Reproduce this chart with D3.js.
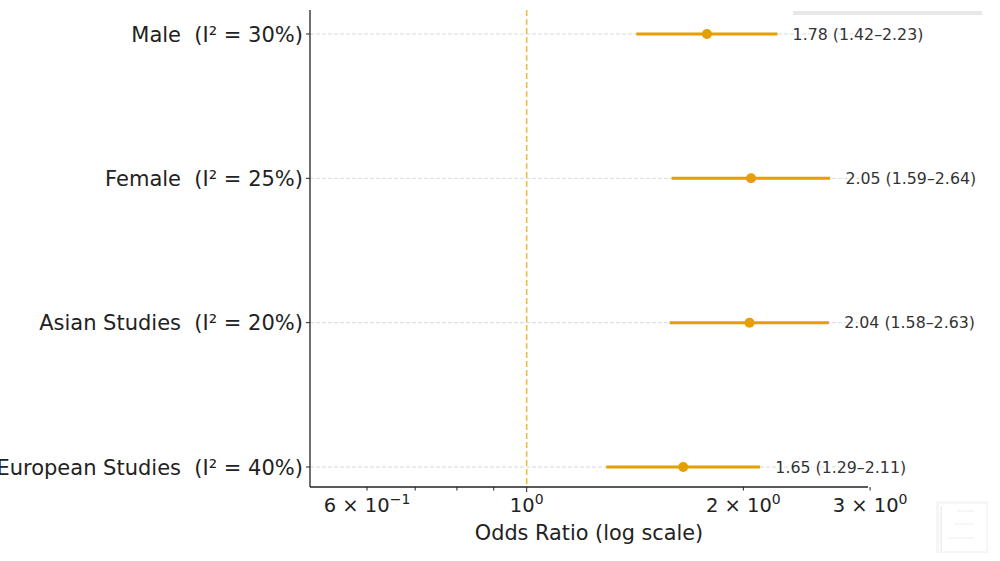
<!DOCTYPE html>
<html><head><meta charset="utf-8">
<script src="https://cdn.jsdelivr.net/npm/d3@7"></script>
<style>
html,body{margin:0;padding:0;background:#fff;}
svg{display:block;font-family:"DejaVu Sans",sans-serif;}
</style></head>
<body>
<svg id="chart" width="1000" height="561"></svg>
<script>
const categories = ["Male", "Female", "Asian Studies", "European Studies"];
const heterogeneity = [30, 25, 20, 40];
const oddsRatio = [1.78, 2.05, 2.04, 1.65];
const ciLower = [1.42, 1.59, 1.58, 1.29];
const ciUpper = [2.23, 2.64, 2.63, 2.11];
const labeledTicks = [0.6, 1, 2, 3];
const tickLabels = [["6 × 10", "−1"], ["10", "0"], ["2 × 10", "0"], ["3 × 10", "0"]];
const minorTicks = [0.7, 0.8, 0.9];

(function () {
const svg = d3.select("#chart");
const orange = "#E69F00";
const pLeft = 310, pRight = 868, pTop = 10, pBottom = 487;

const x = d3.scaleLog().domain([0.5, 2.98]).range([pLeft, pRight]);
const y = d3.scalePoint().domain(categories).range([34, 467]);

// decorative artifacts (screenshot remnants)
svg.append("rect").attr("x", 793).attr("y", 11).attr("width", 189).attr("height", 4).attr("fill", "#e8e8e8");
const th = svg.append("g");
th.append("rect").attr("x", 936).attr("y", 501).attr("width", 52).attr("height", 52).attr("fill", "#f6f6f6");
th.append("rect").attr("x", 939).attr("y", 504).attr("width", 47).attr("height", 47).attr("fill", "#fff");
th.append("line").attr("x1", 941).attr("x2", 941).attr("y1", 506).attr("y2", 551).attr("stroke", "#e4e4e4");
[511, 524, 538].forEach((yy, i) => th.append("line").attr("x1", [957, 954, 948][i]).attr("x2", 974)
  .attr("y1", yy).attr("y2", yy).attr("stroke", "#eeeeee").attr("stroke-width", 1));

// grid lines
svg.append("g").selectAll("line").data(categories).join("line")
  .attr("x1", pLeft).attr("x2", pRight)
  .attr("y1", d => y(d)).attr("y2", d => y(d))
  .attr("stroke", "#cfcfcf").attr("stroke-width", 0.8).attr("stroke-dasharray", "4,2");

// reference line at OR = 1
svg.append("line").attr("x1", x(1)).attr("x2", x(1)).attr("y1", pTop).attr("y2", pBottom)
  .attr("stroke", orange).attr("stroke-opacity", 0.7).attr("stroke-width", 1.6).attr("stroke-dasharray", "6,3");

// error bars and points
const rows = categories.map((c, i) => ({c, h: heterogeneity[i], or: oddsRatio[i], lo: ciLower[i], hi: ciUpper[i]}));
const g = svg.append("g");
g.selectAll("line.ci").data(rows).join("line").attr("class", "ci")
  .attr("x1", d => x(d.lo)).attr("x2", d => x(d.hi))
  .attr("y1", d => y(d.c)).attr("y2", d => y(d.c))
  .attr("stroke", orange).attr("stroke-width", 3);
g.selectAll("circle").data(rows).join("circle")
  .attr("cx", d => x(d.or)).attr("cy", d => y(d.c)).attr("r", 5).attr("fill", orange);
g.selectAll("text.val").data(rows).join("text").attr("class", "val")
  .attr("x", d => x(d.hi * 1.05)).attr("y", d => y(d.c)).attr("dy", "0.35em")
  .attr("font-size", 15.8).attr("fill", "#333")
  .attr("stroke", "#fff").attr("stroke-width", 4).attr("paint-order", "stroke")
  .text(d => `${d.or.toFixed(2)} (${d.lo.toFixed(2)}–${d.hi.toFixed(2)})`);

// y axis
svg.append("line").attr("x1", pLeft).attr("x2", pLeft).attr("y1", pTop).attr("y2", pBottom)
  .attr("stroke", "#222").attr("stroke-width", 1.3);
const yt = svg.append("g").selectAll("g").data(rows).join("g").attr("transform", d => `translate(0,${y(d.c)})`);
yt.append("line").attr("x1", pLeft - 4).attr("x2", pLeft).attr("stroke", "#222");
yt.append("text").attr("x", pLeft - 7).attr("dy", "0.36em").attr("text-anchor", "end")
  .attr("font-size", 21).attr("fill", "#222").style("white-space", "pre")
  .text(d => `${d.c}  (I² = ${d.h}%)`);

// x axis
svg.append("line").attr("x1", pLeft).attr("x2", pRight).attr("y1", pBottom).attr("y2", pBottom)
  .attr("stroke", "#222").attr("stroke-width", 1.3);
svg.append("g").selectAll("line").data(labeledTicks.concat(minorTicks)).join("line")
  .attr("x1", d => x(d)).attr("x2", d => x(d)).attr("y1", pBottom).attr("y2", d => d === 1 ? pBottom + 5 : pBottom + 3.5)
  .attr("stroke", "#222").attr("stroke-width", 1);
const tl = svg.append("g").selectAll("text").data(labeledTicks).join("text")
  .attr("x", d => x(d)).attr("y", 512).attr("text-anchor", "middle")
  .attr("font-size", 19.5).attr("fill", "#222");
tl.append("tspan").text((d, i) => tickLabels[i][0]);
tl.append("tspan").attr("dy", -8).attr("font-size", 14).text((d, i) => tickLabels[i][1]);

svg.append("text").attr("x", (pLeft + pRight) / 2).attr("y", 540).attr("text-anchor", "middle")
  .attr("font-size", 20.8).attr("fill", "#222").text("Odds Ratio (log scale)");
})();
</script>
</body></html>
